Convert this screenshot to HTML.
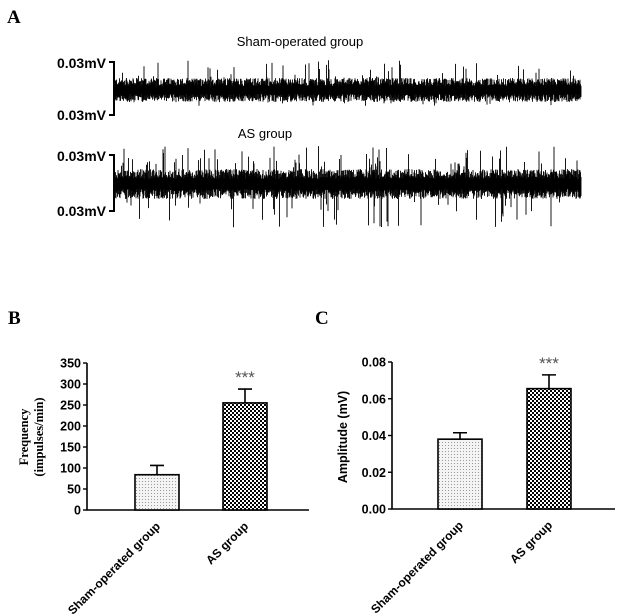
<!DOCTYPE html>
<html><head><meta charset="utf-8"><style>
html,body{margin:0;padding:0;background:#fff;}
svg{display:block;}
.ser{font-family:"Liberation Serif",serif;font-weight:bold;}
.san{font-family:"Liberation Sans",sans-serif;}
</style></head><body>
<svg id="fig" width="623" height="616" viewBox="0 0 623 616" xmlns="http://www.w3.org/2000/svg">
<defs>
<pattern id="dots" width="3" height="3" patternUnits="userSpaceOnUse"><rect width="3" height="3" fill="#f4f4f4"/><rect x="1" y="1" width="1" height="1" fill="#9a9a9a"/></pattern>
<pattern id="checker" width="4" height="4" patternUnits="userSpaceOnUse"><rect width="4" height="4" fill="#fff"/><rect width="2" height="2" fill="#000"/><rect x="2" y="2" width="2" height="2" fill="#000"/></pattern>
</defs>
<text class="ser" x="7" y="23" font-size="19">A</text>
<text class="ser" x="8" y="324" font-size="19">B</text>
<text class="ser" x="315" y="324" font-size="19">C</text>

<text class="san" x="300" y="46" font-size="13" text-anchor="middle">Sham-operated group</text>
<text class="san" x="265" y="138" font-size="13" text-anchor="middle">AS  group</text>
<g class="san" font-size="14" font-weight="bold" text-anchor="end">
<text x="106" y="68">0.03mV</text>
<text x="106" y="120">0.03mV</text>
<text x="106" y="161">0.03mV</text>
<text x="106" y="216">0.03mV</text>
</g>
<path d="M109 62H114V115H109M109 155H114V211H109" fill="none" stroke="#000" stroke-width="2"/>
<g id="traces"></g>
<g id="chartB"></g>
<g id="chartC"></g>
</svg>
<script>
const categories = ["Sham-operated group", "AS group"];
const freqValues = [84, 255];
const freqErrors = [22, 33];
const freqTicks = [0, 50, 100, 150, 200, 250, 300, 350];
const ampValues = [0.038, 0.0655];
const ampErrors = [0.0035, 0.0075];
const ampTicks = ["0.00", "0.02", "0.04", "0.06", "0.08"];
const sigStars = ["", "***"];

const NS = "http://www.w3.org/2000/svg";
function mk(tag, attrs, parent){const e=document.createElementNS(NS,tag);for(const k in attrs)e.setAttribute(k,attrs[k]);parent.appendChild(e);return e;}

// recorded signal texture (seeded)
let seed = 12345;
function rnd(){seed=(seed*1103515245+12345)%2147483648;return seed/2147483648;}
function drawTrace(cy, amp, spikeP, spikeUp, spikeDn, name){
  const g = document.getElementById('traces');
  let d = "";
  for(let x=115;x<=581;x+=0.5){
    let up = amp*(0.5+rnd()), dn = amp*(0.5+rnd());
    if(rnd()<spikeP) up = spikeUp*(0.4+0.6*rnd());
    if(rnd()<spikeP*0.7) dn = spikeDn*(0.4+0.6*rnd());
    d += `M${x} ${(cy-up).toFixed(1)}V${(cy+dn).toFixed(1)}`;
  }
  const p = mk('path',{d:d,stroke:'#000','stroke-width':'0.9',fill:'none'},g);
  
  
}
drawTrace(90, 8, 0.05, 30, 16, 'sham-trace');
drawTrace(184, 10, 0.07, 38, 44, 'as-trace');

function barChart(gid, ax, y0, yTop, xEnd, maxV, ticks, values, errors, bars, fmtTitle, fills){
  const g = document.getElementById(gid);
  const y = v => y0 - (v/maxV)*(y0-yTop);
  const axis = mk('path',{d:`M${ax} ${yTop}V${y0}H${xEnd}`,stroke:'#000','stroke-width':'1.6',fill:'none'},g);
  
  
  ticks.forEach(t=>{
    const v = parseFloat(t);
    const yy = y(v);
    const tk = mk('line',{x1:ax-4,x2:ax,y1:yy,y2:yy,stroke:'#000','stroke-width':'1.4'},g);
    
    
    const tl = mk('text',{x:ax-6,y:yy+4.5,'font-size':'12.5','font-weight':'bold','text-anchor':'end','font-family':'Liberation Sans, sans-serif'},g);
    tl.textContent = t;
    
    
  });
  values.forEach((v,i)=>{
    const [x0,x1] = bars[i];
    const cx = (x0+x1)/2;
    const eb = mk('path',{d:`M${cx} ${y(v)}V${y(v+errors[i])}M${cx-7} ${y(v+errors[i])}H${cx+7}`,stroke:'#000','stroke-width':'1.6',fill:'none'},g);
    
    
    const r = mk('rect',{x:x0,y:y(v),width:x1-x0,height:y0-y(v),fill:fills[i],stroke:'#000','stroke-width':'1.6'},g);
    
    
    if(sigStars[i]){
      const s = mk('text',{x:cx,y:y(v+errors[i])-6,'font-size':'17','text-anchor':'middle',fill:'#555','font-family':'Liberation Sans, sans-serif'},g);
      s.textContent = sigStars[i];
      
      
    }
    const xl = mk('text',{x:0,y:0,'font-size':'12','font-weight':'bold','text-anchor':'end','font-family':'Liberation Sans, sans-serif',transform:`translate(${cx+4},${y0+17}) rotate(-45)`},g);
    xl.textContent = categories[i];
    
    
  });
  fmtTitle(g);
}
barChart('chartB', 87, 510, 363, 309, 350, freqTicks.map(String), freqValues, freqErrors, [[135,179],[223,267]], g=>{
  const t = mk('text',{transform:'translate(28,437) rotate(-90)','text-anchor':'middle','font-size':'12.5','font-weight':'bold','font-family':'Liberation Serif, serif'},g);
  t.textContent='Frequency';
  
  
  const t2 = mk('text',{transform:'translate(43,437) rotate(-90)','text-anchor':'middle','font-size':'12.5','font-weight':'bold','font-family':'Liberation Serif, serif'},g);
  t2.textContent='(impulses/min)';
  
  
}, ['url(#dots)','url(#checker)']);
barChart('chartC', 392, 509, 362, 615, 0.08, ampTicks, ampValues, ampErrors, [[438,482],[527,571]], g=>{
  const t = mk('text',{transform:'translate(347,437) rotate(-90)','text-anchor':'middle','font-size':'12.5','font-weight':'bold','font-family':'Liberation Sans, sans-serif'},g);
  t.textContent='Amplitude (mV)';
  
  
}, ['url(#dots)','url(#checker)']);
</script>
</body></html>
